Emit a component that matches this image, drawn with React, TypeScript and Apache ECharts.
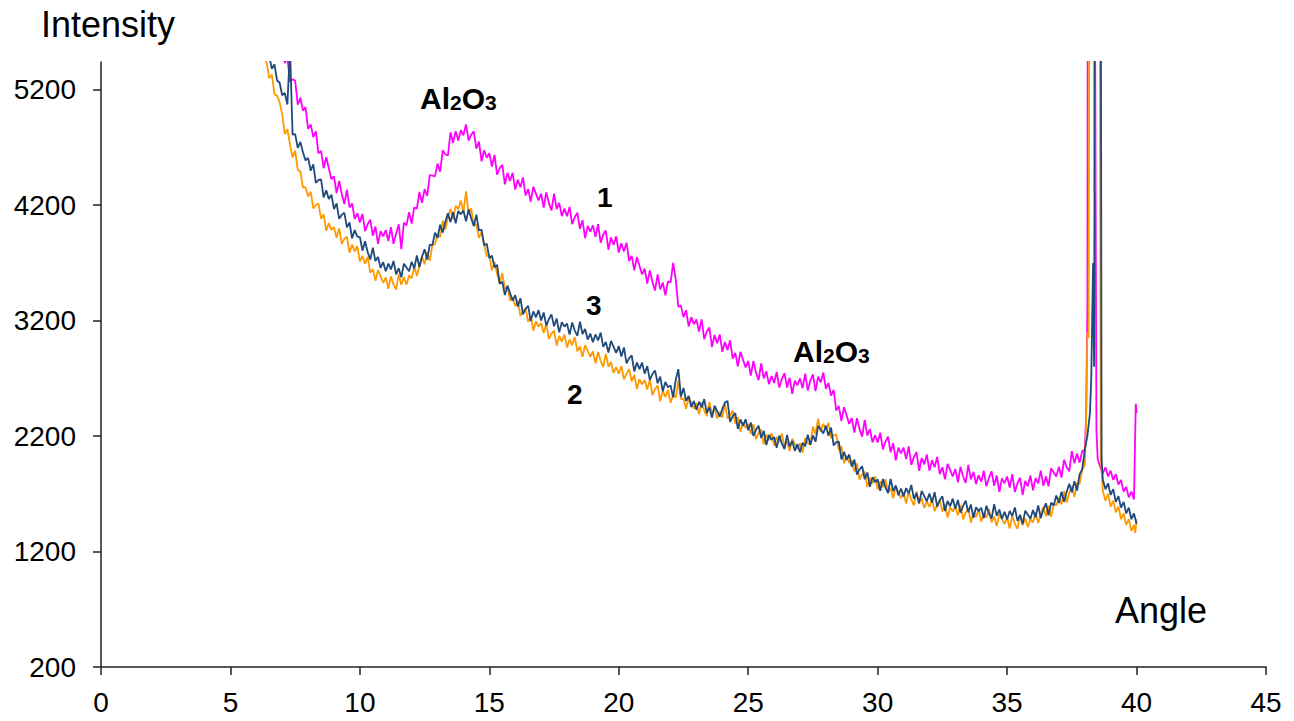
import React, { useEffect, useRef } from "react";
import * as echarts from "echarts";

// Angle grid of the scan (degrees), 6.0 .. 37.9 step 0.1
const ANGLE_START = 6.0;
const ANGLE_COUNT = 320;
const ANGLES: number[] = Array.from({ length: ANGLE_COUNT }, (_, i) => Math.round(ANGLE_START * 10 + i) / 10);

const X_TICKS = [0, 5, 10, 15, 20, 25, 30, 35, 40, 45];
const Y_TICKS = [200, 1200, 2200, 3200, 4200, 5200];

// Sample 1 (magenta)
const SAMPLE1 = [
  6500, 6440, 6380, 6320, 6260, 6200, 6120, 6050, 5980, 5900,
  5610, 5430, 5480, 5270, 5290, 5280, 5070, 5130, 5020, 5050,
  4860, 4900, 4790, 4840, 4650, 4670, 4520, 4615, 4520, 4425,
  4450, 4305, 4410, 4295, 4210, 4335, 4180, 4215, 4080, 4130,
  4050, 4125, 3975, 4035, 4075, 3935, 4015, 3865, 3975, 3930,
  3985, 3890, 4010, 3865, 3955, 4035, 3820, 4050, 4025, 4140,
  4040, 4180, 4170, 4315, 4220, 4340, 4280, 4460, 4455, 4450,
  4560, 4490, 4675, 4640, 4630, 4830, 4740, 4840, 4760, 4850,
  4805, 4900, 4760, 4810, 4840, 4690, 4750, 4580, 4675, 4610,
  4650, 4535, 4635, 4465, 4520, 4550, 4380, 4480, 4410, 4480,
  4335, 4420, 4355, 4440, 4285, 4340, 4230, 4360, 4300, 4240,
  4300, 4180, 4310, 4220, 4155, 4300, 4165, 4220, 4105, 4170,
  4105, 4185, 4035, 4095, 4135, 3995, 4070, 3915, 4020, 3970,
  4025, 3925, 4035, 3875, 3945, 3980, 3815, 3920, 3855, 3930,
  3790, 3870, 3800, 3875, 3715, 3760, 3635, 3750, 3675, 3600,
  3650, 3520, 3635, 3535, 3460, 3600, 3470, 3530, 3420, 3540,
  3530, 3700, 3560, 3320, 3330, 3230, 3290, 3150, 3230, 3170,
  3210, 3105, 3210, 3040, 3105, 3140, 2970, 3075, 3005, 3080,
  2930, 3015, 2945, 3030, 2870, 2920, 2805, 2930, 2860, 2795,
  2850, 2725, 2850, 2750, 2685, 2830, 2700, 2760, 2650, 2720,
  2660, 2755, 2620, 2695, 2745, 2620, 2705, 2565, 2680, 2640,
  2700, 2615, 2740, 2595, 2680, 2735, 2590, 2715, 2665, 2750,
  2610, 2660, 2550, 2600, 2420, 2460, 2330, 2450, 2380, 2305,
  2355, 2230, 2355, 2260, 2195, 2340, 2205, 2260, 2145, 2210,
  2145, 2230, 2085, 2150, 2195, 2060, 2140, 1990, 2100, 2050,
  2100, 2000, 2110, 1950, 2020, 2060, 1900, 2010, 1955, 2040,
  1900, 1990, 1930, 2020, 1870, 1930, 1825, 1960, 1905, 1850,
  1915, 1800, 1935, 1850, 1795, 1950, 1825, 1890, 1785, 1860,
  1805, 1900, 1765, 1840, 1895, 1770, 1858, 1716, 1834, 1792,
  1850, 1755, 1870, 1715, 1790, 1840, 1690, 1812, 1765, 1858,
  1730, 1835, 1790, 1900, 1770, 1850, 1765, 1920, 1885, 1850,
  1935, 1840, 1995, 1930, 1895, 2070, 1965, 2050, 1970, 2070,
];
const SAMPLE1_PEAK: [number, number][] = [
  [38.0, 2080], [38.05, 2350], [38.1, 3300], [38.13, 9000], [38.35, 9000], [38.45, 2250],
  [38.5, 2000], [38.6, 1930], [38.7, 1880], [38.8, 1930], [38.9, 1850], [39.0, 1900],
  [39.1, 1820], [39.2, 1870], [39.3, 1780], [39.4, 1820], [39.5, 1720], [39.6, 1760],
  [39.7, 1670], [39.8, 1720], [39.9, 1650], [39.97, 2480], [40.0, 2400],
];

// Sample 2 (orange)
const SAMPLE2 = [
  6200, 6000, 5800, 5480, 5430, 5300, 5330, 5160, 5150, 5090,
  4984, 4816, 4858, 4724, 4614, 4672, 4506, 4492, 4352, 4356,
  4276, 4316, 4172, 4201, 4214, 4083, 4120, 3978, 4044, 3987,
  4010, 3918, 3999, 3864, 3908, 3928, 3788, 3859, 3799, 3846,
  3712, 3762, 3692, 3752, 3615, 3646, 3546, 3638, 3583, 3528,
  3574, 3476, 3583, 3512, 3469, 3600, 3511, 3577, 3512, 3591,
  3566, 3666, 3587, 3676, 3754, 3688, 3795, 3718, 3854, 3862,
  3950, 3923, 4064, 3989, 4093, 4168, 4078, 4194, 4164, 4241,
  4137, 4320, 4132, 4172, 4020, 4036, 3916, 3968, 3858, 3758,
  3764, 3636, 3708, 3604, 3524, 3612, 3476, 3492, 3372, 3401,
  3326, 3376, 3242, 3281, 3304, 3188, 3240, 3113, 3194, 3147,
  3180, 3093, 3174, 3039, 3088, 3113, 2983, 3069, 3019, 3081,
  2967, 3037, 2987, 3057, 2935, 2976, 2886, 2988, 2938, 2888,
  2934, 2831, 2928, 2852, 2799, 2912, 2801, 2842, 2747, 2796,
  2741, 2806, 2692, 2741, 2779, 2673, 2730, 2608, 2694, 2647,
  2685, 2603, 2689, 2554, 2608, 2638, 2503, 2589, 2539, 2601,
  2487, 2557, 2532, 2680, 2520, 2526, 2436, 2538, 2488, 2438,
  2484, 2388, 2493, 2421, 2374, 2494, 2391, 2439, 2352, 2409,
  2361, 2486, 2352, 2381, 2419, 2308, 2365, 2238, 2319, 2272,
  2305, 2218, 2304, 2174, 2228, 2258, 2128, 2214, 2164, 2226,
  2117, 2192, 2147, 2222, 2105, 2156, 2071, 2178, 2133, 2088,
  2139, 2056, 2183, 2139, 2124, 2282, 2216, 2350, 2237, 2306,
  2256, 2316, 2182, 2206, 2214, 2078, 2110, 1963, 2029, 1967,
  1990, 1893, 1964, 1824, 1868, 1893, 1758, 1839, 1789, 1851,
  1737, 1807, 1757, 1827, 1705, 1751, 1661, 1763, 1713, 1663,
  1712, 1616, 1720, 1648, 1600, 1720, 1616, 1664, 1577, 1634,
  1586, 1659, 1549, 1606, 1648, 1546, 1612, 1494, 1584, 1547,
  1590, 1513, 1604, 1479, 1538, 1574, 1450, 1542, 1498, 1566,
  1459, 1535, 1492, 1568, 1452, 1504, 1420, 1528, 1484, 1440,
  1492, 1400, 1508, 1440, 1396, 1522, 1428, 1488, 1412, 1482,
  1451, 1541, 1447, 1524, 1586, 1506, 1595, 1500, 1614, 1600,
  1665, 1610, 1724, 1624, 1708, 1768, 1673, 1794, 1784, 1906,
];
const SAMPLE2_PEAK: [number, number][] = [
  [38.0, 1950], [38.05, 2300], [38.1, 3100], [38.15, 3050], [38.2, 9000], [38.3, 9000],
  [38.38, 4300], [38.45, 9000], [38.55, 9000], [38.62, 2000], [38.7, 1720], [38.8, 1640],
  [38.9, 1700], [39.0, 1590], [39.1, 1640], [39.2, 1540], [39.3, 1590], [39.4, 1480],
  [39.5, 1530], [39.6, 1430], [39.7, 1480], [39.8, 1380], [39.9, 1430], [39.95, 1360],
  [40.0, 1480],
];

// Sample 3 (dark blue)
const SAMPLE3 = [
  6300, 6100, 5900, 5700, 5580, 5490, 5380, 5420, 5280, 5260,
  5152, 5172, 5072, 5560, 4810, 4816, 4696, 4748, 4658, 4588,
  4610, 4498, 4554, 4394, 4418, 4423, 4268, 4329, 4254, 4291,
  4166, 4216, 4082, 4116, 4134, 4008, 4050, 3913, 3984, 3927,
  3924, 3806, 3888, 3794, 3729, 3832, 3716, 3752, 3657, 3706,
  3627, 3694, 3644, 3717, 3600, 3654, 3576, 3693, 3660, 3628,
  3710, 3653, 3764, 3664, 3753, 3818, 3728, 3859, 3854, 3961,
  3916, 4031, 3962, 4056, 4129, 4053, 4140, 4043, 4149, 4122,
  4154, 4061, 4163, 4084, 4019, 4117, 3981, 3987, 3852, 3866,
  3742, 3762, 3662, 3682, 3520, 3536, 3421, 3503, 3438, 3373,
  3420, 3323, 3394, 3254, 3303, 3328, 3196, 3280, 3229, 3291,
  3201, 3271, 3157, 3214, 3254, 3151, 3217, 3098, 3187, 3148,
  3174, 3079, 3184, 3114, 3068, 3190, 3084, 3128, 3036, 3088,
  3012, 3080, 3028, 3096, 2972, 3016, 2924, 3024, 2972, 2920,
  2980, 2890, 2968, 2830, 2876, 2898, 2760, 2838, 2780, 2836,
  2741, 2806, 2687, 2736, 2769, 2658, 2715, 2588, 2669, 2622,
  2639, 2536, 2688, 2780, 2544, 2617, 2506, 2547, 2452, 2504,
  2428, 2498, 2448, 2520, 2400, 2448, 2360, 2464, 2416, 2368,
  2435, 2490, 2504, 2324, 2373, 2398, 2263, 2344, 2289, 2346,
  2251, 2318, 2202, 2254, 2290, 2183, 2245, 2123, 2209, 2167,
  2192, 2098, 2204, 2134, 2088, 2210, 2108, 2158, 2072, 2130,
  2060, 2142, 2112, 2212, 2125, 2206, 2151, 2288, 2258, 2223,
  2290, 2203, 2274, 2119, 2148, 2153, 1998, 2064, 1994, 2041,
  1936, 1996, 1867, 1911, 1939, 1826, 1885, 1760, 1844, 1802,
  1824, 1726, 1828, 1756, 1708, 1828, 1724, 1772, 1687, 1746,
  1677, 1750, 1703, 1776, 1657, 1706, 1619, 1725, 1680, 1635,
  1702, 1624, 1714, 1588, 1646, 1678, 1550, 1639, 1592, 1658,
  1572, 1646, 1537, 1596, 1640, 1540, 1608, 1492, 1584, 1550,
  1580, 1489, 1598, 1530, 1486, 1610, 1510, 1564, 1482, 1544,
  1477, 1552, 1507, 1582, 1465, 1516, 1438, 1554, 1518, 1483,
  1560, 1496, 1600, 1489, 1564, 1618, 1513, 1624, 1599, 1686,
  1621, 1718, 1632, 1716, 1786, 1713, 1810, 1728, 1869, 1912,
];
const SAMPLE3_PEAK: [number, number][] = [
  [38.0, 2080], [38.1, 2200], [38.2, 2400], [38.25, 2700], [38.32, 3700], [38.36, 2800],
  [38.42, 9000], [38.6, 9000], [38.65, 2000], [38.7, 1820], [38.8, 1740], [38.9, 1790],
  [39.0, 1690], [39.1, 1740], [39.2, 1630], [39.3, 1680], [39.4, 1580], [39.5, 1630],
  [39.6, 1530], [39.7, 1580], [39.8, 1480], [39.9, 1530], [40.0, 1440],
];

const FONT = '"Liberation Sans", Arial, Helvetica, sans-serif';

function pairs(values: number[], peak: [number, number][]): [number, number][] {
  const out: [number, number][] = ANGLES.map((a, i) => [a, values[i]] as [number, number]);
  return out.concat(peak);
}

export default function App() {
  const ref = useRef<HTMLDivElement>(null);

  useEffect(() => {
    if (!ref.current) return;
    const chart = echarts.init(ref.current, undefined, { renderer: "svg" });

    const lineSeries = (name: string, color: string, data: [number, number][]) => ({
      name,
      type: "line",
      data,
      showSymbol: false,
      symbol: "none",
      clip: true,
      lineStyle: { color, width: 1.8 },
      itemStyle: { color },
      emphasis: { disabled: true },
    });

    const al2o3 = (x: number, y: number) => ({
      type: "text",
      x,
      y,
      style: {
        text: "{a|Al}{b|2}{a|O}{b|3}",
        fill: "#000",
        align: "left",
        verticalAlign: "middle",
        rich: {
          a: { font: `bold 30px ${FONT}`, fill: "#000", verticalAlign: "bottom" },
          b: { font: `bold 21px ${FONT}`, fill: "#000", verticalAlign: "bottom" },
        },
      },
    });

    const label = (text: string, x: number, y: number, size: number, bold: boolean) => ({
      type: "text",
      x,
      y,
      style: {
        text,
        fill: "#000",
        font: `${bold ? "bold " : ""}${size}px ${FONT}`,
        align: "left",
        verticalAlign: "middle",
      },
    });

    chart.setOption({
      animation: false,
      backgroundColor: "#fff",
      grid: { left: 101, top: 62, width: 1165, height: 605, containLabel: false },
      xAxis: {
        type: "value",
        min: 0,
        max: 45,
        interval: 5,
        axisLine: { show: true, onZero: false, lineStyle: { color: "#222", width: 1.5 } },
        axisTick: { show: true, inside: false, length: 8, lineStyle: { color: "#222", width: 1.5 }, customValues: X_TICKS },
        axisLabel: {
          customValues: X_TICKS,
          formatter: (v: number) => String(v),
          color: "#000",
          fontFamily: FONT,
          fontSize: 28,
          margin: 35,
          verticalAlign: "middle",
        },
        splitLine: { show: false },
      },
      yAxis: {
        type: "value",
        min: 200,
        max: 5440,
        axisLine: { show: true, onZero: false, lineStyle: { color: "#222", width: 1.5 } },
        axisTick: { show: true, inside: false, length: 8, lineStyle: { color: "#222", width: 1.5 }, customValues: Y_TICKS },
        axisLabel: {
          customValues: Y_TICKS,
          formatter: (v: number) => String(v),
          color: "#000",
          fontFamily: FONT,
          fontSize: 28,
          margin: 25,
        },
        splitLine: { show: false },
      },
      series: [
        lineSeries("1", "#FF00FF", pairs(SAMPLE1, SAMPLE1_PEAK)),
        lineSeries("2", "#FF9900", pairs(SAMPLE2, SAMPLE2_PEAK)),
        lineSeries("3", "#1F4A7C", pairs(SAMPLE3, SAMPLE3_PEAK)),
      ],
      graphic: [
        label("Intensity", 41, 24, 36, false),
        label("Angle", 1115, 610, 36, false),
        al2o3(420, 98),
        al2o3(793, 351),
        label("1", 597, 197, 28, true),
        label("3", 586, 305, 28, true),
        label("2", 567, 394, 28, true),
      ],
    });

    return () => chart.dispose();
  }, []);

  return (
    <div
      ref={ref}
      style={{ position: "absolute", left: 0, top: 0, width: 1294, height: 721, background: "#fff" }}
    />
  );
}
